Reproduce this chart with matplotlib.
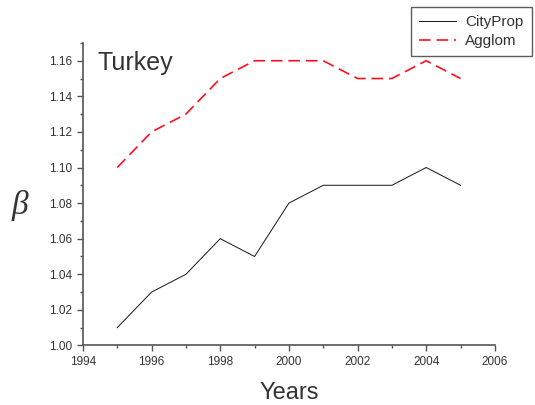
import matplotlib.pyplot as plt
from matplotlib.ticker import MultipleLocator

plt.rcParams['font.family'] = ['Liberation Sans', 'DejaVu Sans']

years = [1995, 1996, 1997, 1998, 1999, 2000, 2001, 2002, 2003, 2004, 2005]
cityprop = [1.01, 1.03, 1.04, 1.06, 1.05, 1.08, 1.09, 1.09, 1.09, 1.10, 1.09]
agglom = [1.10, 1.12, 1.13, 1.15, 1.16, 1.16, 1.16, 1.15, 1.15, 1.16, 1.15]

txt = '#333333'
axc = '#555555'

fig = plt.figure(figsize=(5.35, 4.05), dpi=100)
ax = fig.add_axes([0.155, 0.147, 0.77, 0.747])

ax.plot(years, cityprop, color='#222222', lw=0.75, label='CityProp')
ax.plot(years, agglom, color='#ff1020', lw=1.2, linestyle=(0, (7, 3.5)), label='Agglom')

ax.set_xlim(1994, 2006)
ax.set_ylim(1.00, 1.17)
ax.xaxis.set_major_locator(MultipleLocator(2))
ax.xaxis.set_minor_locator(MultipleLocator(1))
ax.yaxis.set_major_locator(MultipleLocator(0.02))
ax.yaxis.set_minor_locator(MultipleLocator(0.01))
ax.yaxis.set_major_formatter(plt.FormatStrFormatter('%.2f'))

for s in ['top', 'right']:
    ax.spines[s].set_visible(False)
for s in ['left', 'bottom']:
    ax.spines[s].set_color(axc)
    ax.spines[s].set_linewidth(1.2)

ax.tick_params(which='both', direction='out', color=axc, width=1.0, labelsize=8.5, labelcolor=txt)
ax.tick_params(which='major', length=4)
ax.tick_params(which='minor', length=2.5)

ax.set_xlabel('Years', fontsize=17, color=txt, labelpad=10)
ax.set_ylabel('β', fontsize=24, color=txt, rotation=0, family=['Liberation Serif', 'DejaVu Serif'],
              style='italic', va='center', ha='center')
ax.yaxis.set_label_coords(-0.153, 0.464)

ax.text(0.035, 0.935, 'Turkey', transform=ax.transAxes, fontsize=18, color=txt, va='center')

leg = fig.legend(loc='upper right', bbox_to_anchor=(0.994, 0.983), borderaxespad=0,
                 fontsize=11, fancybox=False, frameon=True, handlelength=2.4,
                 handletextpad=0.6, labelcolor=txt, borderpad=0.55, labelspacing=0.3)
leg.get_frame().set_edgecolor('#333333')
leg.get_frame().set_linewidth(1.0)

fig.savefig('out.png', dpi=100)
